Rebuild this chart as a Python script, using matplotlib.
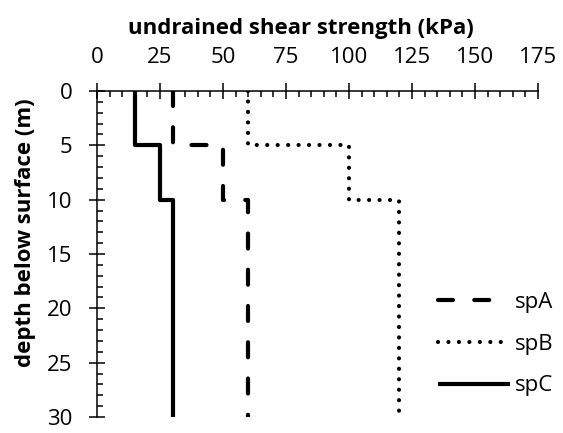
import numpy as np
import matplotlib.pyplot as plt
from matplotlib.ticker import MultipleLocator

plt.rcParams['font.family'] = ['Open Sans', 'DejaVu Sans']

# layer boundaries (m) and undrained shear strength per layer (kPa)
depths = [0, 5, 10, 30]
spA = [30, 50, 60]
spB = [60, 100, 120]
spC = [15, 25, 30]
labels = ['spA', 'spB', 'spC']
styles = [(0, (3.6, 5.1)), (0, (0.01, 2.5)), '-']


def step_profile(vals, d):
    x = np.repeat(vals, 2)
    y = np.concatenate([[d[0]], np.repeat(d[1:-1], 2), [d[-1]]])
    return x, y


fig = plt.figure(figsize=(5.63, 4.33), dpi=100)
ax = fig.add_axes([0.1723, 0.037, 0.7833, 0.7528])

for vals, lab, ls in zip([spA, spB, spC], labels, styles):
    x, y = step_profile(vals, depths)
    ax.plot(x, y, color='black', lw=3, ls=ls, label=lab,
            dash_capstyle='round', solid_capstyle='butt')

ax.set_xlim(0, 175)
ax.set_ylim(30, 0)
ax.xaxis.set_major_locator(MultipleLocator(25))
ax.xaxis.set_minor_locator(MultipleLocator(5))
ax.yaxis.set_major_locator(MultipleLocator(5))
ax.yaxis.set_minor_locator(MultipleLocator(1))
ax.xaxis.tick_top()
ax.xaxis.set_label_position('top')
ax.tick_params(which='major', direction='inout', length=11.5, width=1.1, labelsize=16)
ax.tick_params(which='minor', direction='in', length=4.3, width=1.1)
ax.tick_params(axis='x', which='both', top=True, bottom=False)
ax.tick_params(axis='x', which='major', pad=11)
ax.tick_params(axis='y', which='both', left=True, right=False)
ax.tick_params(axis='y', which='major', pad=12)
for s in ['right', 'bottom']:
    ax.spines[s].set_visible(False)
for s in ['top', 'left']:
    ax.spines[s].set_linewidth(1.1)

ax.set_xlabel('undrained shear strength (kPa)', fontsize=16, fontweight='bold')
ax.set_ylabel('depth below surface (m)', fontsize=16, fontweight='bold')
ax.xaxis.set_label_coords(0.4626, 1.175)
ax.yaxis.set_label_coords(-0.138, 0.564)

ax.legend(loc='upper left', frameon=False, fontsize=16, handlelength=3.24,
          handletextpad=0.23, labelspacing=0.93, borderpad=0, borderaxespad=0,
          bbox_to_anchor=(438 / 563, 1 - 292 / 433), bbox_transform=fig.transFigure)

fig.savefig('out.png', dpi=100)
